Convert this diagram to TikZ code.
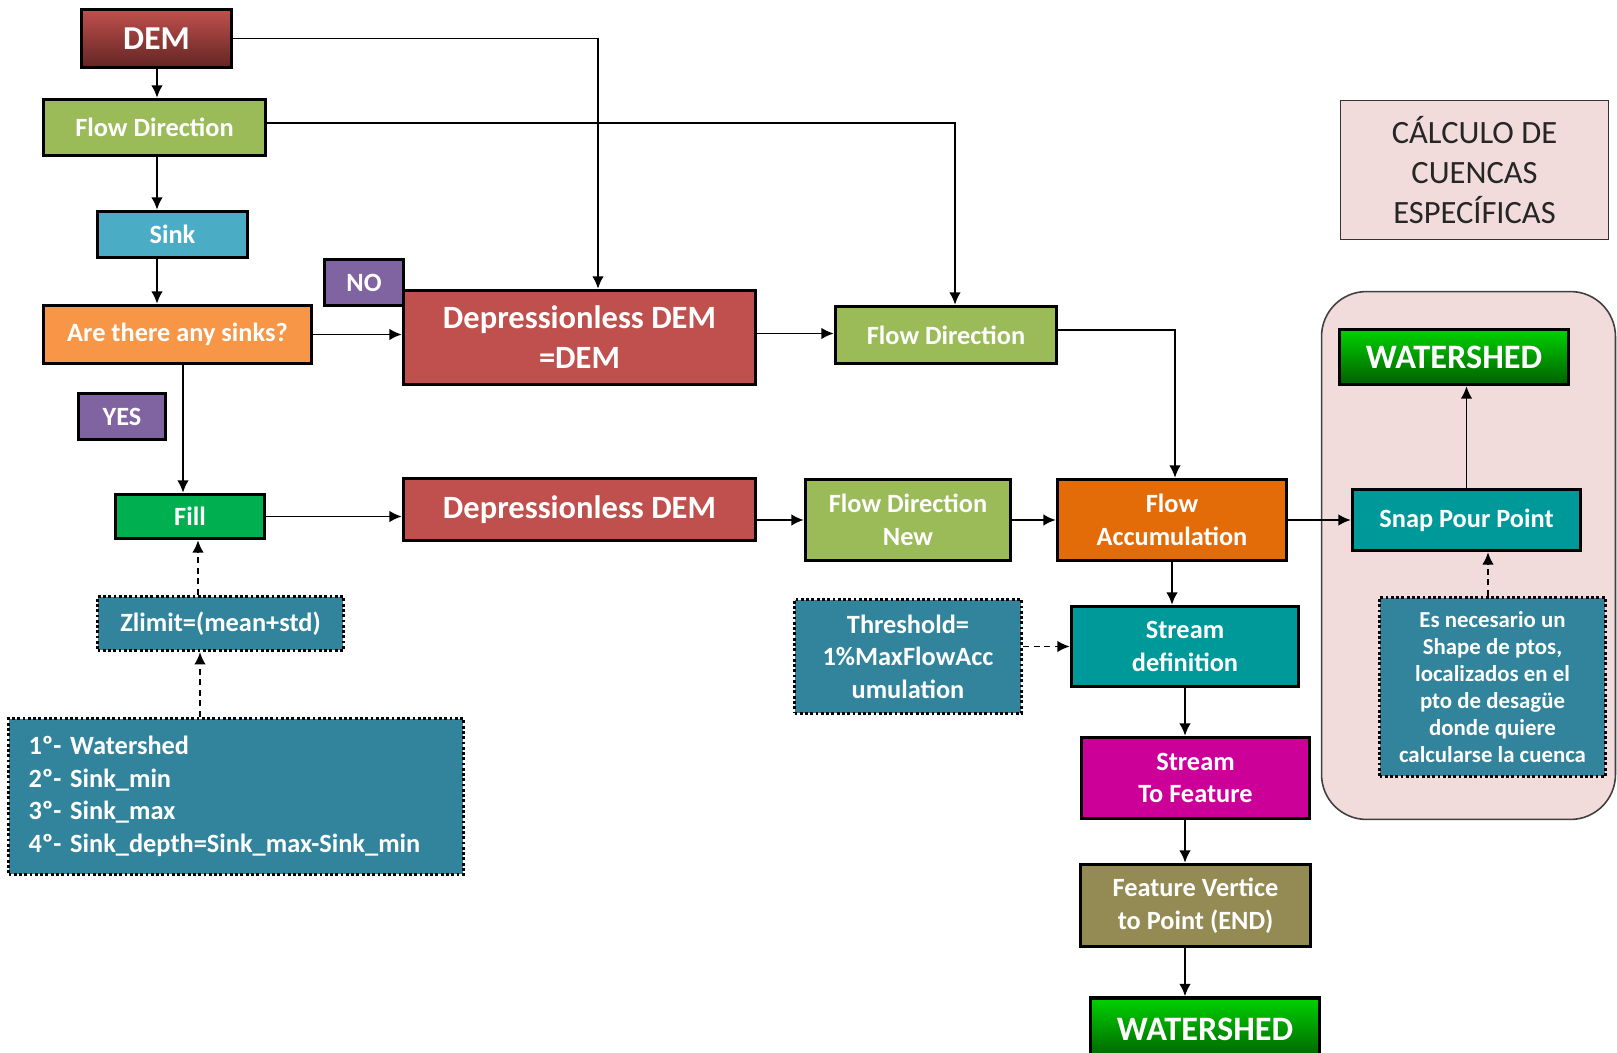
\documentclass[tikz,border=0pt]{standalone}
\usepackage{fontspec}
\setmainfont{Carlito}
\usepackage{tikz}
\usetikzlibrary{arrows.meta,calc,positioning}
\definecolor{demtop}{RGB}{192,80,77}
\definecolor{dembot}{RGB}{99,37,35}
\definecolor{fdgreen}{RGB}{155,187,89}
\definecolor{sinkblue}{RGB}{75,172,198}
\definecolor{askorange}{RGB}{247,150,70}
\definecolor{yesnopurple}{RGB}{128,100,162}
\definecolor{depred}{RGB}{192,80,77}
\definecolor{fillgreen}{RGB}{0,176,80}
\definecolor{accorange}{RGB}{227,108,9}
\definecolor{streamteal}{RGB}{0,153,153}
\definecolor{featmagenta}{RGB}{204,0,153}
\definecolor{vertolive}{RGB}{148,138,84}
\definecolor{wstop}{RGB}{0,210,0}
\definecolor{wsbot}{RGB}{0,95,0}
\definecolor{infoteal}{RGB}{49,132,155}
\definecolor{basinpink}{RGB}{242,220,219}
\tikzset{
    mybox/.style={draw=black,line width=2pt,text=white,align=center,inner sep=2pt,
        font=\fontsize{15}{18.5}\selectfont\bfseries},
    myinfo/.style={mybox,fill=infoteal,line width=1.8pt,dash pattern=on 1.6pt off 1.4pt},
    mybig/.style={font=\fontsize{18.5}{22.7}\selectfont\bfseries},
    mywshed/.style={mybox,mybig,font=\fontsize{19.5}{23}\selectfont\bfseries,
        top color=wstop,bottom color=wsbot},
    myarrow/.style={line width=1pt,draw=black,-{Latex[length=7pt,width=6.5pt]}},
    mydashed/.style={myarrow,dash pattern=on 3.5pt off 2.5pt}
}

\begin{document}
\begin{tikzpicture}[x=0.02cm,y=-0.02cm]
    \useasboundingbox (0,0) rectangle (1617,1053);

    % zona de cuencas especificas
    \node[draw=black!75,line width=0.9pt,fill=basinpink,rounded corners=0.9cm,
        minimum width=5.88cm,minimum height=10.56cm] (basin) at (1468.5,555.5) {};

    % columna izquierda
    \node[mybox,font=\fontsize{19}{23}\selectfont\bfseries,top color=demtop,bottom color=dembot,
        minimum width=3.0cm,minimum height=1.16cm] (dem) at (156.5,38.5) {DEM};
    \node[mybox,fill=fdgreen,minimum width=4.44cm,minimum height=1.12cm] (fdir) at (154.5,127.5) {Flow Direction};
    \node[mybox,fill=sinkblue,minimum width=3.0cm,minimum height=0.92cm] (sink) at (172.5,234.5) {Sink};
    \node[mybox,fill=askorange,minimum width=5.36cm,minimum height=1.16cm] (ask) at (177.5,334.5) {Are there any sinks?};
    \node[mybox,fill=yesnopurple,minimum width=1.58cm,minimum height=0.92cm] (no) at (364,282.5) {NO};
    \node[mybox,fill=yesnopurple,minimum width=1.74cm,minimum height=0.92cm] (yes) at (122,416.5) {YES};
    \node[mybox,fill=fillgreen,minimum width=2.98cm,minimum height=0.88cm] (fill) at (190,516.5) {Fill};
    \node[myinfo,minimum width=4.92cm,minimum height=1.08cm] (zlim) at (220.5,623.5) {Zlimit=(mean+std)};
    \node[myinfo,text width=8.3cm,inner xsep=0.4cm,align=left,minimum height=3.12cm,
        font=\fontsize{15}{18.5}\selectfont\bfseries] (steps) at (236,796.5)
        {1º- Watershed\\2º- Sink\_min\\3º- Sink\_max\\4º- Sink\_depth=Sink\_max-Sink\_min};

    % centro
    \node[mybox,mybig,fill=depred,minimum width=7.04cm,minimum height=1.88cm] (dnodem) at (579.5,337.5) {Depressionless DEM\\=DEM};
    \node[mybox,mybig,fill=depred,minimum width=7.04cm,minimum height=1.24cm] (dnod) at (579.5,509.5) {Depressionless DEM};
    \node[mybox,fill=fdgreen,minimum width=4.42cm,minimum height=1.14cm] (fdir2) at (946,335) {Flow Direction};
    \node[mybox,fill=fdgreen,minimum width=4.1cm,minimum height=1.62cm] (fdirnew) at (908,520) {Flow Direction\\New};
    \node[myinfo,minimum width=4.54cm,minimum height=2.28cm] (thres) at (908,656.5) {Threshold=\\1\%MaxFlowAcc\\umulation};

    % columna de cauces
    \node[mybox,fill=accorange,minimum width=4.58cm,minimum height=1.62cm] (facc) at (1172,520) {Flow\\Accumulation};
    \node[mybox,fill=streamteal,minimum width=4.54cm,minimum height=1.6cm] (sdef) at (1185,646.5) {Stream\\definition};
    \node[mybox,fill=featmagenta,minimum width=4.56cm,minimum height=1.62cm] (s2f) at (1195.5,778) {Stream\\To Feature};
    \node[mybox,fill=vertolive,minimum width=4.6cm,minimum height=1.64cm] (fv2p) at (1195.5,905.5) {Feature Vertice\\to Point (END)};
    \node[mywshed,minimum width=4.58cm,minimum height=1.24cm] (wsbot) at (1205,1029) {WATERSHED};

    % derecha
    \node[draw=black!80,line width=0.9pt,fill=basinpink,text=black!85,align=center,
        font=\fontsize{18.5}{22.7}\selectfont,minimum width=5.36cm,minimum height=2.78cm] (calc) at (1474.5,170)
        {CÁLCULO DE\\CUENCAS\\ESPECÍFICAS};
    \node[mywshed,minimum width=4.58cm,minimum height=1.1cm] (wstop) at (1454,357) {WATERSHED};
    \node[mybox,fill=streamteal,minimum width=4.56cm,minimum height=1.22cm] (snap) at (1466.5,520) {Snap Pour Point};
    \node[myinfo,minimum width=4.52cm,minimum height=3.58cm,font=\fontsize{13}{15.3}\selectfont\bfseries] (esnec) at (1492.5,687)
        {Es necesario un\\Shape de ptos,\\localizados en el\\pto de desagüe\\donde quiere\\calcularse la cuenca};

    \coordinate (spine) at (157,0);
    \coordinate (zx) at (198,0);

    % flechas
    \draw[myarrow] (spine |- dem.south) -- (spine |- fdir.north);
    \draw[myarrow] (spine |- fdir.south) -- (spine |- sink.north);
    \draw[myarrow] (spine |- sink.south) -- (spine |- ask.north);
    \draw[myarrow] (dem.east) -| ([xshift=0.37cm]dnodem.north);
    \draw[myarrow] ([yshift=0.09cm]fdir.east) -| ([xshift=0.18cm]fdir2.north);
    \draw[myarrow] (ask.east) -- (ask.east -| dnodem.west);
    \draw[myarrow] ([yshift=0.08cm]dnodem.east) -- ([yshift=0.08cm]dnodem.east -| fdir2.west);
    \draw[myarrow] ([yshift=0.1cm]fdir2.east) -| ([xshift=0.06cm]facc.north);
    \draw[myarrow] ([xshift=0.11cm]ask.south) -- ([xshift=0.11cm]ask.south |- fill.north);
    \draw[myarrow] (fill.east) -- (fill.east -| dnod.west);
    \draw[myarrow] (dnod.east |- fdirnew.west) -- (fdirnew.west);
    \draw[myarrow] (fdirnew.east) -- (facc.west);
    \draw[myarrow] (facc.east) -- (facc.east -| snap.west);
    \draw[myarrow] (snap.north) -- (snap.north |- wstop.south);
    \draw[myarrow] (facc.south) -- (facc.south |- sdef.north);
    \draw[myarrow] (sdef.south) -- (sdef.south |- s2f.north);
    \draw[myarrow] (sdef.south |- s2f.south) -- (sdef.south |- fv2p.north);
    \draw[myarrow] (sdef.south |- fv2p.south) -- (sdef.south |- wsbot.north);
    \draw[mydashed] (zx |- zlim.north) -- (zx |- fill.south);
    \draw[mydashed] ([xshift=-0.72cm]steps.north) -- ([xshift=-0.72cm]steps.north |- zlim.south);
    \draw[mydashed] (sdef.west -| thres.east) -- (sdef.west);
    \draw[mydashed] ([xshift=-0.09cm]esnec.north) -- ([xshift=-0.09cm]esnec.north |- snap.south);
\end{tikzpicture}
\end{document}
